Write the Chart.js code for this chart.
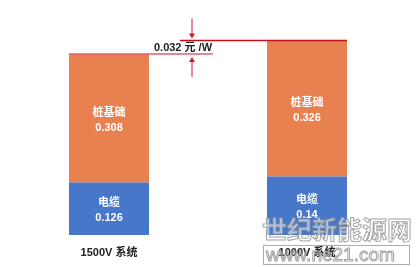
<!DOCTYPE html>
<html>
<head>
<meta charset="utf-8">
<script src="https://cdn.jsdelivr.net/npm/chart.js@4"></script>
<style>
  html, body { margin: 0; padding: 0; background: #fff; }
  #wrap { width: 417px; height: 267px; position: relative; }
</style>
</head>
<body>
<div id="wrap"><canvas id="costChart"></canvas></div>
<script>
// Chart data
const categories = ['1500V 系统', '1000V 系统'];
const cableName = '电缆';
const cableValues = [0.126, 0.14];
const pileName = '桩基础';
const pileValues = [0.308, 0.326];
const diffUnit = ' 元 /W';

const FONT = '"Liberation Sans", "Noto Sans CJK SC", sans-serif';

// white two-line labels inside each segment
const segmentLabels = {
  id: 'segmentLabels',
  afterDatasetsDraw(chart) {
    const ctx = chart.ctx;
    ctx.save();
    ctx.fillStyle = '#ffffff';
    ctx.textAlign = 'center';
    ctx.textBaseline = 'middle';
    ctx.font = 'bold 11px ' + FONT;
    chart.data.datasets.forEach((ds, di) => {
      chart.getDatasetMeta(di).data.forEach((bar, i) => {
        const cy = (bar.y + bar.base) / 2 + 2;
        ctx.fillText(ds.label, bar.x, cy - 7.5);
        ctx.fillText(String(ds.data[i]), bar.x, cy + 7.5);
      });
    });
    ctx.restore();
  }
};

// difference annotation between the two totals
const diffMarker = {
  id: 'diffMarker',
  afterDatasetsDraw(chart) {
    const ctx = chart.ctx;
    const y = chart.scales.y;
    const bars = chart.getDatasetMeta(1).data;
    const totalL = cableValues[0] + pileValues[0];
    const totalR = cableValues[1] + pileValues[1];
    const yL = y.getPixelForValue(totalL);
    const yR = y.getPixelForValue(totalR);
    const leftEdge = bars[0].x - bars[0].width / 2;
    const rightEdge = bars[1].x + bars[1].width / 2;
    const ax = 192;

    ctx.save();
    ctx.lineWidth = 1.5;
    ctx.strokeStyle = '#e0606a';
    ctx.beginPath();
    ctx.moveTo(leftEdge, yL);
    ctx.lineTo(213, yL);
    ctx.stroke();

    ctx.strokeStyle = '#c0101c';
    ctx.beginPath();
    ctx.moveTo(180, yR);
    ctx.lineTo(rightEdge, yR);
    ctx.stroke();

    // arrows
    ctx.lineWidth = 1;
    ctx.strokeStyle = '#c81e2a';
    ctx.fillStyle = '#c81e2a';
    ctx.beginPath();
    ctx.moveTo(ax, yR - 22);
    ctx.lineTo(ax, yR - 4);
    ctx.stroke();
    ctx.beginPath();
    ctx.moveTo(ax - 3, yR - 7);
    ctx.lineTo(ax + 3, yR - 7);
    ctx.lineTo(ax, yR - 2);
    ctx.closePath();
    ctx.fill();

    ctx.beginPath();
    ctx.moveTo(ax, yL + 23);
    ctx.lineTo(ax, yL + 5);
    ctx.stroke();
    ctx.beginPath();
    ctx.moveTo(ax - 3, yL + 8);
    ctx.lineTo(ax + 3, yL + 8);
    ctx.lineTo(ax, yL + 3);
    ctx.closePath();
    ctx.fill();

    ctx.fillStyle = '#222222';
    ctx.font = 'bold 11px ' + FONT;
    ctx.textAlign = 'center';
    ctx.textBaseline = 'middle';
    ctx.fillText((totalR - totalL).toFixed(3) + diffUnit, 183, (yL + yR) / 2 + 0.5);
    ctx.restore();
  }
};

// faint site watermark in the lower right corner
const watermark = {
  id: 'watermark',
  afterDraw(chart) {
    const ctx = chart.ctx;
    ctx.save();
    ctx.font = 'bold 25px "Noto Sans CJK SC", sans-serif';
    ctx.textAlign = 'left';
    ctx.textBaseline = 'middle';
    ctx.fillStyle = 'rgba(255,255,255,0.55)';
    ctx.strokeStyle = 'rgba(140,140,140,0.8)';
    ctx.lineWidth = 1;
    ctx.fillText('世纪新能源网', 262, 229);
    ctx.strokeText('世纪新能源网', 262, 229);
    ctx.strokeStyle = 'rgba(150,150,150,0.8)';
    ctx.strokeRect(263.5, 245.5, 146, 19);
    ctx.font = '19px "Liberation Sans", sans-serif';
    ctx.fillStyle = 'rgba(255,255,255,0.4)';
    ctx.strokeStyle = 'rgba(140,140,140,0.8)';
    ctx.fillText('www.ne21.com', 266, 256);
    ctx.strokeText('www.ne21.com', 266, 256);
    ctx.restore();
  }
};

new Chart(document.getElementById('costChart'), {
  type: 'bar',
  data: {
    labels: categories,
    datasets: [{
      label: cableName,
      data: cableValues,
      backgroundColor: '#4677c8',
      borderWidth: 0
    }, {
      label: pileName,
      data: pileValues,
      backgroundColor: '#e8804f',
      borderWidth: 0
    }]
  },
  options: {
    responsive: true,
    maintainAspectRatio: false,
    animation: false,
    layout: { padding: { top: 18, left: 10, right: 11, bottom: 6 } },
    datasets: { bar: { barPercentage: 0.404, categoryPercentage: 1 } },
    plugins: {
      legend: { display: false },
      tooltip: { enabled: false }
    },
    scales: {
      x: {
        stacked: true,
        grid: { display: false },
        border: { display: false },
        afterFit: axis => { axis.height = 26; },
        ticks: {
          color: '#222222',
          padding: 3,
          font: { family: FONT, size: 11, weight: 'bold' }
        }
      },
      y: {
        stacked: true,
        display: false,
        min: 0,
        max: 0.52
      }
    }
  },
  plugins: [segmentLabels, diffMarker, watermark]
});
</script>
</body>
</html>
